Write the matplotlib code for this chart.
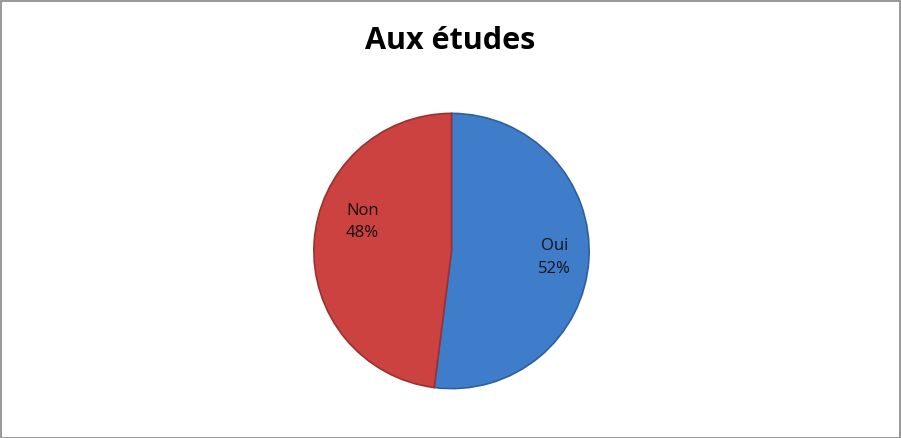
import numpy as np
import matplotlib
matplotlib.use('Agg')
import matplotlib.pyplot as plt
from matplotlib.patches import Rectangle

#data
labels = ['Oui', 'Non']
values = [52, 48]
colors = ['#3f7dcb', '#cb4240']
edges = ['#2f5f9c', '#9c3030']

#label placement (angle in degrees, distance as fraction of radius)
label_pos = [(-3.6, 0.75), (162, 0.68)]

plt.rcParams['font.family'] = ['Open Sans', 'DejaVu Sans']

W, H = 901, 438
fig = plt.figure(figsize=(W / 100, H / 100), dpi=100)
fig.patch.set_facecolor('white')

#pie centre and radius in pixels
cx, cy, r = 451.5, H - 251, 139
ax = fig.add_axes([(cx - r) / W, (cy - r) / H, 2 * r / W, 2 * r / H])
wedges, _ = ax.pie(values, colors=colors, startangle=90, counterclock=False,
                   radius=1, wedgeprops=dict(linewidth=1.2))
for w, ec in zip(wedges, edges):
    w.set_edgecolor(ec)
ax.set_xlim(-1.01, 1.01)
ax.set_ylim(-1.01, 1.01)
ax.set_aspect('equal')
ax.axis('off')

for lab, val, (ang, dist) in zip(labels, values, label_pos):
    a = np.deg2rad(ang)
    ax.text(dist * np.cos(a), dist * np.sin(a), f'{lab}\n{val}%',
            ha='center', va='center', fontsize=12, color='#111111',
            linespacing=1.55)

fig.text(0.5, 1 - 41 / H, 'Aux études', ha='center', va='center',
         fontsize=22, fontweight='bold', color='black')

#outer frame
fig.patches.append(Rectangle((0.5 / W, 0.5 / H), 1 - 1.5 / W, 1 - 1.5 / H,
                             transform=fig.transFigure, fill=False,
                             edgecolor='#868686', linewidth=1.2))

fig.savefig('out.png', dpi=100)
